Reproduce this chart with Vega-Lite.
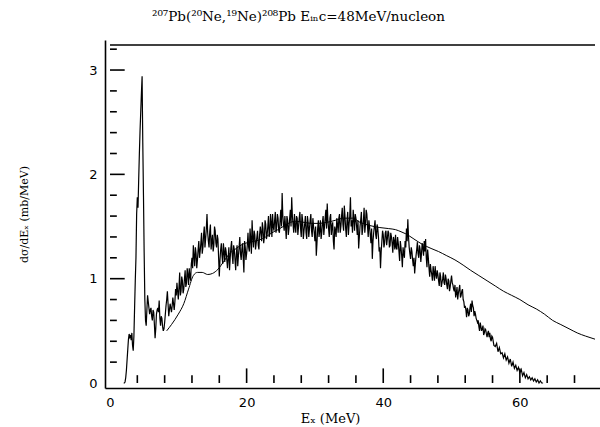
{
  "$schema": "https://vega.github.io/schema/vega-lite/v6.json",
  "width": 495,
  "height": 348,
  "autosize": {"type": "none"},
  "padding": {"left": 105, "top": 40, "right": 0, "bottom": 39},
  "background": "white",
  "config": {"view": {"stroke": null}},
  "title": {
    "text": "²⁰⁷Pb(²⁰Ne,¹⁹Ne)²⁰⁸Pb Eᵢₙc=48MeV/nucleon",
    "font": "DejaVu Serif",
    "fontSize": 13.5,
    "fontWeight": "normal",
    "color": "black",
    "anchor": "start",
    "frame": "group",
    "dx": 47,
    "offset": 17
  },
  "datasets": {
    "exp": [
      {"E":2.0,"v":0},{"E":2.1,"v":0},{"E":2.2,"v":0.01},{"E":2.3,"v":0.05},{"E":2.4,"v":0.12},{"E":2.5,"v":0.22},{"E":2.6,"v":0.32},{"E":2.7,"v":0.42},{"E":2.8,"v":0.47},{"E":2.9,"v":0.44},
      {"E":3.0,"v":0.46},{"E":3.1,"v":0.41},{"E":3.2,"v":0.48},{"E":3.3,"v":0.36},{"E":3.4,"v":0.31},{"E":3.5,"v":0.45},{"E":3.6,"v":0.72},{"E":3.7,"v":0.98},{"E":3.8,"v":1.2},{"E":3.9,"v":1.62},
      {"E":4.0,"v":1.78},{"E":4.1,"v":1.68},{"E":4.2,"v":1.95},{"E":4.3,"v":2.2},{"E":4.4,"v":2.42},{"E":4.5,"v":2.6},{"E":4.6,"v":2.78},{"E":4.7,"v":2.94},{"E":4.75,"v":2.6},{"E":4.8,"v":2.3},{"E":4.9,"v":1.8},
      {"E":5.0,"v":1.25},{"E":5.1,"v":0.8},{"E":5.2,"v":0.6},{"E":5.3,"v":0.55},{"E":5.4,"v":0.7},{"E":5.5,"v":0.84},{"E":5.6,"v":0.78},
      {"E":5.8,"v":0.66},{"E":6.0,"v":0.72},{"E":6.2,"v":0.6},{"E":6.4,"v":0.68},{"E":6.6,"v":0.43},{"E":6.8,"v":0.66},{"E":7.0,"v":0.72},{"E":7.2,"v":0.79},{"E":7.4,"v":0.55},{"E":7.6,"v":0.62},{"E":7.8,"v":0.5},
      {"E":8.0,"v":0.58},{"E":8.2,"v":0.74},{"E":8.4,"v":0.88},{"E":8.6,"v":0.64},{"E":8.8,"v":0.76},{"E":9.0,"v":0.68},{"E":9.2,"v":0.82},{"E":9.4,"v":0.7},{"E":9.6,"v":0.9},{"E":9.8,"v":0.96},
      {"E":10.0,"v":0.8},{"E":10.2,"v":1.06},{"E":10.4,"v":0.88},{"E":10.6,"v":0.98},{"E":10.8,"v":0.9},{"E":11.0,"v":1.08},{"E":11.2,"v":0.96},{"E":11.4,"v":1.04},{"E":11.6,"v":1.1},{"E":11.8,"v":0.98},
      {"E":12.0,"v":1.2},{"E":12.2,"v":1.32},{"E":12.4,"v":1.12},{"E":12.6,"v":1.24},{"E":12.8,"v":1.18},{"E":13.0,"v":1.36},{"E":13.2,"v":1.26},{"E":13.4,"v":1.44},{"E":13.6,"v":1.3},{"E":13.8,"v":1.5},
      {"E":14.0,"v":1.38},{"E":14.2,"v":1.62},{"E":14.4,"v":1.36},{"E":14.6,"v":1.45},{"E":14.8,"v":1.28},{"E":15.0,"v":1.42},{"E":15.2,"v":1.32},{"E":15.4,"v":1.46},{"E":15.6,"v":1.3},{"E":15.8,"v":1.38},
      {"E":16.0,"v":1.02},{"E":16.2,"v":1.28},{"E":16.4,"v":1.22},{"E":16.6,"v":1.34},{"E":16.8,"v":1.16},{"E":17.0,"v":1.26},{"E":17.2,"v":1.1},{"E":17.4,"v":1.3},{"E":17.6,"v":1.2},{"E":17.8,"v":1.36},
      {"E":18.0,"v":1.14},{"E":18.2,"v":1.28},{"E":18.4,"v":1.08},{"E":18.6,"v":1.32},{"E":18.8,"v":1.22},{"E":19.0,"v":1.4},{"E":19.2,"v":1.18},{"E":19.4,"v":1.34},{"E":19.6,"v":1.06},{"E":19.8,"v":1.3},
      {"E":20.0,"v":1.24},{"E":20.2,"v":1.44},{"E":20.4,"v":1.26},{"E":20.6,"v":1.38},{"E":20.8,"v":1.56},{"E":21.0,"v":1.3},{"E":21.2,"v":1.42},{"E":21.4,"v":1.34},{"E":21.6,"v":1.46},{"E":21.8,"v":1.28},
      {"E":22.0,"v":1.5},{"E":22.2,"v":1.36},{"E":22.4,"v":1.48},{"E":22.6,"v":1.4},{"E":22.8,"v":1.52},{"E":23.0,"v":1.42},{"E":23.2,"v":1.6},{"E":23.4,"v":1.44},{"E":23.6,"v":1.54},{"E":23.8,"v":1.62},
      {"E":24.0,"v":1.46},{"E":24.2,"v":1.64},{"E":24.4,"v":1.5},{"E":24.6,"v":1.58},{"E":24.8,"v":1.44},{"E":25.0,"v":1.66},{"E":25.2,"v":1.82},{"E":25.4,"v":1.52},{"E":25.6,"v":1.6},{"E":25.8,"v":1.38},
      {"E":26.0,"v":1.56},{"E":26.2,"v":1.48},{"E":26.4,"v":1.66},{"E":26.6,"v":1.78},{"E":26.8,"v":1.52},{"E":27.0,"v":1.62},{"E":27.2,"v":1.44},{"E":27.4,"v":1.58},{"E":27.6,"v":1.5},{"E":27.8,"v":1.64},
      {"E":28.0,"v":1.4},{"E":28.2,"v":1.56},{"E":28.4,"v":1.46},{"E":28.6,"v":1.6},{"E":28.8,"v":1.38},{"E":29.0,"v":1.54},{"E":29.2,"v":1.48},{"E":29.4,"v":1.62},{"E":29.6,"v":1.4},{"E":29.8,"v":1.5},
      {"E":30.0,"v":1.36},{"E":30.2,"v":1.22},{"E":30.4,"v":1.48},{"E":30.6,"v":1.4},{"E":30.8,"v":1.56},{"E":31.0,"v":1.44},{"E":31.2,"v":1.6},{"E":31.4,"v":1.5},{"E":31.6,"v":1.66},{"E":31.8,"v":1.72},
      {"E":32.0,"v":1.48},{"E":32.2,"v":1.58},{"E":32.4,"v":1.42},{"E":32.6,"v":1.54},{"E":32.8,"v":1.28},{"E":33.0,"v":1.46},{"E":33.2,"v":1.58},{"E":33.4,"v":1.44},{"E":33.6,"v":1.62},{"E":33.8,"v":1.5},
      {"E":34.0,"v":1.68},{"E":34.2,"v":1.46},{"E":34.4,"v":1.6},{"E":34.6,"v":1.4},{"E":34.8,"v":1.64},{"E":35.0,"v":1.52},{"E":35.2,"v":1.78},{"E":35.4,"v":1.56},{"E":35.6,"v":1.66},{"E":35.8,"v":1.46},
      {"E":36.0,"v":1.58},{"E":36.2,"v":1.42},{"E":36.4,"v":1.29},{"E":36.6,"v":1.5},{"E":36.8,"v":1.64},{"E":37.0,"v":1.48},{"E":37.2,"v":1.68},{"E":37.4,"v":1.52},{"E":37.6,"v":1.62},{"E":37.8,"v":1.4},
      {"E":38.0,"v":1.5},{"E":38.2,"v":1.34},{"E":38.4,"v":1.19},{"E":38.6,"v":1.44},{"E":38.8,"v":1.56},{"E":39.0,"v":1.38},{"E":39.2,"v":1.48},{"E":39.4,"v":1.26},{"E":39.6,"v":1.1},{"E":39.8,"v":1.36},
      {"E":40.0,"v":1.42},{"E":40.2,"v":1.34},{"E":40.4,"v":1.46},{"E":40.6,"v":1.38},{"E":40.8,"v":1.44},{"E":41.0,"v":1.32},{"E":41.2,"v":1.4},{"E":41.4,"v":1.25},{"E":41.6,"v":1.36},{"E":41.8,"v":1.42},
      {"E":42.0,"v":1.28},{"E":42.2,"v":1.34},{"E":42.4,"v":1.17},{"E":42.6,"v":1.3},{"E":42.8,"v":1.11},{"E":43.0,"v":1.24},{"E":43.2,"v":1.36},{"E":43.4,"v":1.48},{"E":43.6,"v":1.57},{"E":43.8,"v":1.3},
      {"E":44.0,"v":1.19},{"E":44.2,"v":1.26},{"E":44.4,"v":1.12},{"E":44.6,"v":1.05},{"E":44.8,"v":1.22},{"E":45.0,"v":1.35},{"E":45.2,"v":1.2},{"E":45.4,"v":1.28},{"E":45.6,"v":1.24},{"E":45.8,"v":1.3},
      {"E":46.0,"v":1.36},{"E":46.2,"v":1.38},{"E":46.4,"v":1.11},{"E":46.6,"v":1.2},{"E":46.8,"v":1.02},{"E":47.0,"v":1.08},{"E":47.2,"v":0.98},{"E":47.4,"v":1.06},{"E":47.6,"v":1.12},{"E":47.8,"v":1.0},
      {"E":48.0,"v":1.04},{"E":48.2,"v":0.93},{"E":48.4,"v":1.02},{"E":48.6,"v":0.96},{"E":48.8,"v":1.06},{"E":49.0,"v":0.94},{"E":49.2,"v":1.0},{"E":49.4,"v":0.9},{"E":49.6,"v":0.98},{"E":49.8,"v":0.92},
      {"E":50.0,"v":1.03},{"E":50.2,"v":0.94},{"E":50.4,"v":0.88},{"E":50.6,"v":0.82},{"E":50.8,"v":0.92},{"E":51.0,"v":0.86},{"E":51.2,"v":0.94},{"E":51.4,"v":0.84},{"E":51.6,"v":0.9},{"E":51.8,"v":0.78},
      {"E":52.0,"v":0.74},{"E":52.2,"v":0.63},{"E":52.4,"v":0.7},{"E":52.6,"v":0.66},{"E":52.8,"v":0.76},{"E":53.0,"v":0.79},{"E":53.2,"v":0.72},{"E":53.4,"v":0.69},{"E":53.6,"v":0.62},{"E":53.8,"v":0.58},
      {"E":54.0,"v":0.54},{"E":54.2,"v":0.58},{"E":54.4,"v":0.5},{"E":54.6,"v":0.55},{"E":54.8,"v":0.48},{"E":55.0,"v":0.51},{"E":55.2,"v":0.44},{"E":55.4,"v":0.5},{"E":55.6,"v":0.48},{"E":55.8,"v":0.4},
      {"E":56.0,"v":0.44},{"E":56.2,"v":0.36},{"E":56.4,"v":0.35},{"E":56.6,"v":0.38},{"E":56.8,"v":0.3},{"E":57.0,"v":0.34},{"E":57.2,"v":0.28},{"E":57.4,"v":0.29},{"E":57.6,"v":0.24},{"E":57.8,"v":0.28},
      {"E":58.0,"v":0.22},{"E":58.2,"v":0.25},{"E":58.4,"v":0.19},{"E":58.6,"v":0.23},{"E":58.8,"v":0.16},{"E":59.0,"v":0.2},{"E":59.2,"v":0.14},{"E":59.4,"v":0.17},{"E":59.6,"v":0.12},{"E":59.8,"v":0.15},
      {"E":60.0,"v":0.1},{"E":60.2,"v":0.13},{"E":60.4,"v":0.07},{"E":60.6,"v":0.1},{"E":60.8,"v":0.05},{"E":61.0,"v":0.08},{"E":61.2,"v":0.04},{"E":61.4,"v":0.06},{"E":61.6,"v":0.03},{"E":61.8,"v":0.05},
      {"E":62.0,"v":0.02},{"E":62.2,"v":0.04},{"E":62.4,"v":0.01},{"E":62.6,"v":0.03},{"E":62.8,"v":0.0},{"E":63.0,"v":0.02},{"E":63.2,"v":0.0},{"E":63.4,"v":0.0},
      {"E":5.7,"v":0.72},{"E":5.9,"v":0.7},{"E":6.1,"v":0.64},{"E":6.3,"v":0.7},{"E":6.5,"v":0.56},{"E":6.7,"v":0.52},{"E":6.9,"v":0.7},{"E":7.1,"v":0.68},{"E":7.3,"v":0.62},{"E":7.5,"v":0.64},{"E":7.7,"v":0.54},
      {"E":7.9,"v":0.52},{"E":8.1,"v":0.66},{"E":8.3,"v":0.8},{"E":8.5,"v":0.76},{"E":8.7,"v":0.7},{"E":8.9,"v":0.72},{"E":9.1,"v":0.74},{"E":9.3,"v":0.76},{"E":9.5,"v":0.78},{"E":9.7,"v":0.84},{"E":9.9,"v":0.88},
      {"E":10.1,"v":0.92},{"E":10.3,"v":0.84},{"E":10.5,"v":1.02},{"E":10.7,"v":0.86},{"E":10.9,"v":1.0},{"E":11.1,"v":0.92},{"E":11.3,"v":1.1},{"E":11.5,"v":0.94},{"E":11.7,"v":1.02},{"E":11.9,"v":1.14},
      {"E":12.1,"v":1.1},{"E":12.3,"v":1.22},{"E":12.5,"v":1.3},{"E":12.7,"v":1.1},{"E":12.9,"v":1.28},{"E":13.1,"v":1.2},{"E":13.3,"v":1.34},{"E":13.5,"v":1.24},{"E":13.7,"v":1.42},{"E":13.9,"v":1.3},
      {"E":14.1,"v":1.48},{"E":14.3,"v":1.44},{"E":14.5,"v":1.3},{"E":14.7,"v":1.52},{"E":14.9,"v":1.36},{"E":15.1,"v":1.26},{"E":15.3,"v":1.5},{"E":15.5,"v":1.34},{"E":15.7,"v":1.42},{"E":15.9,"v":1.2},
      {"E":16.1,"v":1.18},{"E":16.3,"v":1.34},{"E":16.5,"v":1.14},{"E":16.7,"v":1.26},{"E":16.9,"v":1.3},{"E":17.1,"v":1.18},{"E":17.3,"v":1.2},{"E":17.5,"v":1.08},{"E":17.7,"v":1.3},{"E":17.9,"v":1.22},
      {"E":18.1,"v":1.32},{"E":18.3,"v":1.18},{"E":18.5,"v":1.24},{"E":18.7,"v":1.12},{"E":18.9,"v":1.3},{"E":19.1,"v":1.24},{"E":19.3,"v":1.28},{"E":19.5,"v":1.2},{"E":19.7,"v":1.36},{"E":19.9,"v":1.18},
      {"E":20.1,"v":1.32},{"E":20.3,"v":1.3},{"E":20.5,"v":1.48},{"E":20.7,"v":1.24},{"E":20.9,"v":1.4},{"E":21.1,"v":1.46},{"E":21.3,"v":1.28},{"E":21.5,"v":1.4},{"E":21.7,"v":1.32},{"E":21.9,"v":1.42},
      {"E":22.1,"v":1.44},{"E":22.3,"v":1.54},{"E":22.5,"v":1.34},{"E":22.7,"v":1.56},{"E":22.9,"v":1.38},{"E":23.1,"v":1.5},{"E":23.3,"v":1.4},{"E":23.5,"v":1.62},{"E":23.7,"v":1.4},{"E":23.9,"v":1.5},
      {"E":24.1,"v":1.56},{"E":24.3,"v":1.44},{"E":24.5,"v":1.62},{"E":24.7,"v":1.46},{"E":24.9,"v":1.56},{"E":25.1,"v":1.5},{"E":25.3,"v":1.6},{"E":25.5,"v":1.46},{"E":25.7,"v":1.5},{"E":25.9,"v":1.6},
      {"E":26.1,"v":1.42},{"E":26.3,"v":1.58},{"E":26.5,"v":1.5},{"E":26.7,"v":1.6},{"E":26.9,"v":1.44},{"E":27.1,"v":1.5},{"E":27.3,"v":1.6},{"E":27.5,"v":1.42},{"E":27.7,"v":1.58},{"E":27.9,"v":1.48},
      {"E":28.1,"v":1.62},{"E":28.3,"v":1.38},{"E":28.5,"v":1.52},{"E":28.7,"v":1.44},{"E":28.9,"v":1.6},{"E":29.1,"v":1.4},{"E":29.3,"v":1.56},{"E":29.5,"v":1.46},{"E":29.7,"v":1.58},{"E":29.9,"v":1.44},
      {"E":30.1,"v":1.5},{"E":30.3,"v":1.34},{"E":30.5,"v":1.56},{"E":30.7,"v":1.46},{"E":30.9,"v":1.38},{"E":31.1,"v":1.54},{"E":31.3,"v":1.42},{"E":31.5,"v":1.58},{"E":31.7,"v":1.48},{"E":31.9,"v":1.56},
      {"E":32.1,"v":1.4},{"E":32.3,"v":1.62},{"E":32.5,"v":1.5},{"E":32.7,"v":1.36},{"E":32.9,"v":1.5},{"E":33.1,"v":1.4},{"E":33.3,"v":1.52},{"E":33.5,"v":1.58},{"E":33.7,"v":1.44},{"E":33.9,"v":1.6},
      {"E":34.1,"v":1.52},{"E":34.3,"v":1.7},{"E":34.5,"v":1.48},{"E":34.7,"v":1.56},{"E":34.9,"v":1.42},{"E":35.1,"v":1.6},{"E":35.3,"v":1.5},{"E":35.5,"v":1.44},{"E":35.7,"v":1.58},{"E":35.9,"v":1.62},
      {"E":36.1,"v":1.5},{"E":36.3,"v":1.56},{"E":36.5,"v":1.4},{"E":36.7,"v":1.56},{"E":36.9,"v":1.42},{"E":37.1,"v":1.56},{"E":37.3,"v":1.44},{"E":37.5,"v":1.66},{"E":37.7,"v":1.5},{"E":37.9,"v":1.56},
      {"E":38.1,"v":1.42},{"E":38.3,"v":1.48},{"E":38.5,"v":1.36},{"E":38.7,"v":1.5},{"E":38.9,"v":1.42},{"E":39.1,"v":1.52},{"E":39.3,"v":1.4},{"E":39.5,"v":1.3},{"E":39.7,"v":1.26},{"E":39.9,"v":1.46},
      {"E":40.1,"v":1.3},{"E":40.3,"v":1.44},{"E":40.5,"v":1.32},{"E":40.7,"v":1.46},{"E":40.9,"v":1.3},{"E":41.1,"v":1.44},{"E":41.3,"v":1.34},{"E":41.5,"v":1.4},{"E":41.7,"v":1.28},{"E":41.9,"v":1.3},
      {"E":42.1,"v":1.4},{"E":42.3,"v":1.26},{"E":42.5,"v":1.36},{"E":42.7,"v":1.22},{"E":42.9,"v":1.3},{"E":43.1,"v":1.2},{"E":43.3,"v":1.3},{"E":43.5,"v":1.36},{"E":43.7,"v":1.4},{"E":43.9,"v":1.24},
      {"E":44.1,"v":1.3},{"E":44.3,"v":1.18},{"E":44.5,"v":1.2},{"E":44.7,"v":1.14},{"E":44.9,"v":1.28},{"E":45.1,"v":1.24},{"E":45.3,"v":1.32},{"E":45.5,"v":1.16},{"E":45.7,"v":1.34},{"E":45.9,"v":1.22},
      {"E":46.1,"v":1.26},{"E":46.3,"v":1.2},{"E":46.5,"v":1.28},{"E":46.7,"v":1.1},{"E":46.9,"v":1.14},{"E":47.1,"v":1.04},{"E":47.3,"v":1.12},{"E":47.5,"v":0.98},{"E":47.7,"v":1.04},{"E":47.9,"v":1.08},
      {"E":48.1,"v":0.98},{"E":48.3,"v":1.06},{"E":48.5,"v":0.92},{"E":48.7,"v":1.0},{"E":48.9,"v":0.96},{"E":49.1,"v":1.04},{"E":49.3,"v":0.94},{"E":49.5,"v":1.0},{"E":49.7,"v":0.88},{"E":49.9,"v":0.98},
      {"E":50.1,"v":0.96},{"E":50.3,"v":0.9},{"E":50.5,"v":0.94},{"E":50.7,"v":0.86},{"E":50.9,"v":0.8},{"E":51.1,"v":0.9},{"E":51.3,"v":0.82},{"E":51.5,"v":0.88},{"E":51.7,"v":0.8},{"E":51.9,"v":0.72},
      {"E":52.1,"v":0.7},{"E":52.3,"v":0.72},{"E":52.5,"v":0.64},{"E":52.7,"v":0.72},{"E":52.9,"v":0.68},{"E":53.1,"v":0.74},{"E":53.3,"v":0.64},{"E":53.5,"v":0.66},{"E":53.7,"v":0.6},{"E":53.9,"v":0.6},
      {"E":54.1,"v":0.5},{"E":54.3,"v":0.54},{"E":54.5,"v":0.52},{"E":54.7,"v":0.46},{"E":54.9,"v":0.52},{"E":55.1,"v":0.47},{"E":55.3,"v":0.48},{"E":55.5,"v":0.44},{"E":55.7,"v":0.42},{"E":55.9,"v":0.45}
    ],
    "theory": [
      {"E":8.3,"v":0.5},{"E":9.0,"v":0.56},{"E":10.0,"v":0.66},{"E":10.8,"v":0.76},{"E":11.5,"v":0.9},{"E":12.2,"v":1.03},{"E":12.8,"v":1.06},{"E":13.5,"v":1.06},{"E":14.3,"v":1.04},{"E":15.0,"v":1.05},
      {"E":15.8,"v":1.09},{"E":16.6,"v":1.16},{"E":17.5,"v":1.24},{"E":18.5,"v":1.29},{"E":19.4,"v":1.33},{"E":20.5,"v":1.35},{"E":21.8,"v":1.37},{"E":22.8,"v":1.4},{"E":23.7,"v":1.44},{"E":24.6,"v":1.47},
      {"E":25.6,"v":1.51},{"E":26.4,"v":1.54},{"E":27.2,"v":1.55},{"E":28.4,"v":1.54},{"E":29.5,"v":1.53},{"E":30.5,"v":1.53},{"E":31.8,"v":1.54},{"E":33.0,"v":1.56},{"E":34.2,"v":1.58},{"E":35.5,"v":1.58},
      {"E":36.6,"v":1.54},{"E":38.0,"v":1.51},{"E":39.5,"v":1.49},{"E":40.8,"v":1.48},{"E":41.8,"v":1.47},{"E":42.6,"v":1.45},{"E":43.3,"v":1.43},{"E":44.5,"v":1.38},{"E":45.7,"v":1.33},{"E":47.0,"v":1.29},
      {"E":48.1,"v":1.26},{"E":49.3,"v":1.22},{"E":50.5,"v":1.18},{"E":51.7,"v":1.13},{"E":52.8,"v":1.08},{"E":54.0,"v":1.03},{"E":55.2,"v":0.98},{"E":56.4,"v":0.93},{"E":57.6,"v":0.88},{"E":58.8,"v":0.84},
      {"E":60.0,"v":0.8},{"E":61.2,"v":0.75},{"E":62.4,"v":0.71},{"E":63.6,"v":0.66},{"E":64.8,"v":0.6},{"E":66.0,"v":0.56},{"E":67.2,"v":0.52},{"E":68.4,"v":0.48},{"E":69.6,"v":0.45},{"E":71.0,"v":0.42}
    ],
    "frame": [{"x0": 0, "x1": 71, "top": 3.24}],
    "xticks": [
      {"t": 20, "lo": 0, "hi": 0.14}, {"t": 40, "lo": 0, "hi": 0.14}, {"t": 60, "lo": 0, "hi": 0.14},
      {"t": 4, "lo": 0, "hi": 0.075}, {"t": 8, "lo": 0, "hi": 0.075}, {"t": 12, "lo": 0, "hi": 0.075}, {"t": 16, "lo": 0, "hi": 0.075},
      {"t": 24, "lo": 0, "hi": 0.075}, {"t": 28, "lo": 0, "hi": 0.075}, {"t": 32, "lo": 0, "hi": 0.075}, {"t": 36, "lo": 0, "hi": 0.075},
      {"t": 44, "lo": 0, "hi": 0.075}, {"t": 48, "lo": 0, "hi": 0.075}, {"t": 52, "lo": 0, "hi": 0.075}, {"t": 56, "lo": 0, "hi": 0.075},
      {"t": 64, "lo": 0, "hi": 0.075}, {"t": 68, "lo": 0, "hi": 0.075}
    ],
    "yticks": [
      {"t": 1, "lo": 0, "hi": 2.15}, {"t": 2, "lo": 0, "hi": 2.15}, {"t": 3, "lo": 0, "hi": 2.15},
      {"t": 0.2, "lo": 0, "hi": 1.0}, {"t": 0.4, "lo": 0, "hi": 1.0}, {"t": 0.6, "lo": 0, "hi": 1.0}, {"t": 0.8, "lo": 0, "hi": 1.0},
      {"t": 1.2, "lo": 0, "hi": 1.0}, {"t": 1.4, "lo": 0, "hi": 1.0}, {"t": 1.6, "lo": 0, "hi": 1.0}, {"t": 1.8, "lo": 0, "hi": 1.0},
      {"t": 2.2, "lo": 0, "hi": 1.0}, {"t": 2.4, "lo": 0, "hi": 1.0}, {"t": 2.6, "lo": 0, "hi": 1.0}, {"t": 2.8, "lo": 0, "hi": 1.0},
      {"t": 3.2, "lo": 0, "hi": 1.0}
    ]
  },
  "resolve": {"axis": {"x": "independent", "y": "independent"}},
  "layer": [
    {
      "data": {"name": "exp"},
      "mark": {"type": "line", "color": "black", "strokeWidth": 1.2, "clip": true},
      "encoding": {
        "x": {
          "field": "E", "type": "quantitative",
          "scale": {"domain": [0, 71], "nice": false, "zero": false},
          "axis": {
            "orient": "bottom",
            "title": "Eₓ  (MeV)",
            "values": [0, 20, 40, 60],
            "format": "d",
            "ticks": false, "grid": false,
            "domainColor": "black", "domainWidth": 1.6,
            "labelFont": "DejaVu Sans", "labelFontSize": 13, "labelColor": "black",
            "labelPadding": 8, "labelFlush": false, "labelOverlap": false,
            "titleFont": "DejaVu Serif", "titleFontSize": 13, "titleFontWeight": "normal", "titleColor": "black",
            "titleX": 225, "titleY": 30, "titleBaseline": "middle"
          }
        },
        "y": {
          "field": "v", "type": "quantitative",
          "scale": {"domain": [0, 3.24], "nice": false},
          "axis": {
            "orient": "left",
            "title": "dσ/dEₓ (mb/MeV)",
            "values": [0, 1, 2, 3],
            "format": "d",
            "ticks": false, "grid": false,
            "domainColor": "black", "domainWidth": 1.6,
            "labelFont": "DejaVu Sans", "labelFontSize": 13, "labelColor": "black",
            "labelPadding": 8, "labelFlush": false, "labelOverlap": false,
            "titleFont": "DejaVu Serif", "titleFontSize": 11, "titleFontWeight": "normal", "titleColor": "black",
            "titleX": -76
          }
        }
      }
    },
    {
      "data": {"name": "theory"},
      "mark": {"type": "line", "color": "black", "strokeWidth": 1, "interpolate": "monotone", "clip": true},
      "encoding": {
        "x": {"field": "E", "type": "quantitative", "axis": null},
        "y": {"field": "v", "type": "quantitative", "axis": null}
      }
    },
    {
      "data": {"name": "frame"},
      "mark": {"type": "rule", "color": "black", "strokeWidth": 1.6},
      "encoding": {
        "x": {"field": "x0", "type": "quantitative", "axis": null},
        "x2": {"field": "x1"},
        "y": {"field": "top", "type": "quantitative", "axis": null}
      }
    },
    {
      "data": {"name": "xticks"},
      "mark": {"type": "bar", "color": "black", "width": 1.6},
      "encoding": {
        "x": {"field": "t", "type": "quantitative", "axis": null},
        "y": {"field": "lo", "type": "quantitative", "axis": null},
        "y2": {"field": "hi"}
      }
    },
    {
      "data": {"name": "yticks"},
      "mark": {"type": "bar", "color": "black", "height": 1.6},
      "encoding": {
        "y": {"field": "t", "type": "quantitative", "axis": null},
        "x": {"field": "lo", "type": "quantitative", "axis": null},
        "x2": {"field": "hi"}
      }
    }
  ]
}
